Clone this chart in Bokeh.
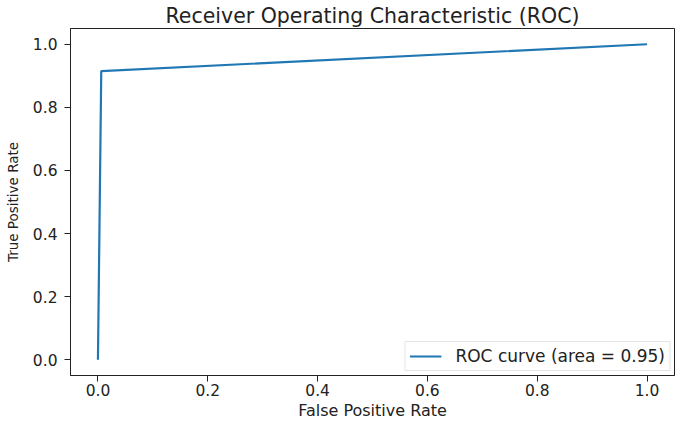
from bokeh.plotting import figure
from bokeh.models import Range1d, Legend, LegendItem, FixedTicker, PrintfTickFormatter, Title
from bokeh.embed import file_html
from bokeh.resources import INLINE

# Data
fpr = [0.0, 0.006, 1.0]
tpr = [0.0, 0.915, 1.0]
roc_auc = 0.95
tick_values = [0.0, 0.2, 0.4, 0.6, 0.8, 1.0]
x_lo, x_hi = -0.05, 1.05
y_lo, y_hi = -0.05, 1.05

FONT = "DejaVu Sans"

p = figure(width=675, height=419, output_backend="svg", toolbar_location=None,
           x_range=Range1d(x_lo, x_hi), y_range=Range1d(y_lo, y_hi),
           min_border_left=70, min_border_right=1, min_border_top=0, min_border_bottom=0)

p.title.text = "Receiver Operating Characteristic (ROC)"
p.title.text_font = FONT
p.title.text_font_size = "20.5px"
p.title.text_font_style = "normal"
p.title.align = "center"
p.title.standoff = 2
p.title.text_color = "#222222"

r = p.line(fpr, tpr, line_color="#1f77b4", line_width=2.2)

legend = Legend(items=[LegendItem(label="ROC curve (area = %0.2f)" % roc_auc, renderers=[r])],
                location="bottom_right")
legend.label_text_font = FONT
legend.label_text_font_size = "17px"
legend.label_text_color = "#222222"
legend.border_line_color = "#cccccc"
legend.border_line_width = 1
legend.background_fill_alpha = 0.8
legend.margin = 4
legend.padding = 4
legend.glyph_width = 32
legend.label_standoff = 14
legend.spacing = 0
p.add_layout(legend)

p.xgrid.visible = False
p.ygrid.visible = False
p.outline_line_color = "#222222"
p.outline_line_width = 1

for ax in (p.xaxis[0], p.yaxis[0]):
    ax.ticker = FixedTicker(ticks=tick_values)
    ax.formatter = PrintfTickFormatter(format="%.1f")
    ax.minor_tick_line_color = None
    ax.major_tick_in = 0
    ax.major_tick_out = 6
    ax.major_tick_line_color = "#222222"
    ax.axis_line_color = "#222222"
    ax.major_label_text_font = FONT
    ax.major_label_text_color = "#222222"
    ax.axis_label_text_font = FONT
    ax.axis_label_text_font_style = "normal"
    ax.axis_label_text_color = "#222222"

p.yaxis.axis_label = "True Positive Rate"
p.xaxis.major_label_text_font_size = "15.5px"
p.yaxis.major_label_text_font_size = "15.5px"
p.yaxis.axis_label_text_font_size = "13.5px"
p.xaxis.major_label_standoff = 2
p.yaxis.major_label_standoff = 7
p.yaxis.axis_label_standoff = 9

xtitle = Title(text="False Positive Rate", align="center", text_font=FONT,
               text_font_size="16px", text_font_style="normal",
               text_color="#222222", standoff=0)
p.add_layout(xtitle, "below")

open("out.html", "w").write(file_html(p, INLINE))
